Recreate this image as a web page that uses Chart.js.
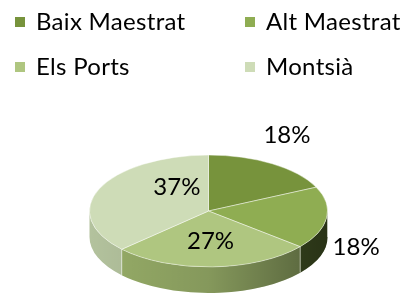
<!DOCTYPE html>
<html>
<head>
<meta charset="utf-8">
<script src="https://cdn.jsdelivr.net/npm/chart.js@4/dist/chart.umd.min.js"></script>
<style>
  html, body { margin: 0; padding: 0; background: #fff; }
  #wrap { position: relative; width: 403px; height: 293px; overflow: hidden; }
  #pie { position: absolute; left: 0; top: 0; }
  .legend { position: absolute; font-family: Lato, 'Noto Sans', sans-serif; font-size: 24px; letter-spacing: 0.3px; color: #000; line-height: 28px; white-space: nowrap; }
  .legend span { display: inline-block; width: 10px; height: 10px; margin-right: 11px; vertical-align: 3px; }
</style>
</head>
<body>
<div id="wrap">
  <canvas id="pie" width="403" height="293"></canvas>
  <div id="legend"></div>
</div>
<script>
// data
const regions = ['Baix Maestrat', 'Alt Maestrat', 'Els Ports', 'Montsià']
const shares = [18, 18, 27, 37]
const colors = ['#77933c', '#8fad52', '#afc680', '#cedcb7']
const sideColors = ['#5a7030', '#4a5c28', '#97ad68', '#b3c29d']

// custom legend, 2 columns like the original
const legendPos = [[15, 7], [245, 7], [15, 52], [245, 52]]
const legendEl = document.getElementById('legend')
regions.forEach((name, i) => {
  const d = document.createElement('div')
  d.className = 'legend'
  d.style.left = legendPos[i][0] + 'px'
  d.style.top = legendPos[i][1] + 'px'
  d.innerHTML = '<span style="background:' + colors[i] + '"></span>' + name
  legendEl.appendChild(d)
})

const tilt = 0.47     // vertical squash of the pie
const depth = 26      // thickness of the side
const screenY = 211   // where the centre of the top face ends up

// squash the pie and draw the visible side wall under it
const pie3d = {
  id: 'pie3d',
  beforeDatasetsDraw(chart) {
    const ctx = chart.ctx
    const meta = chart.getDatasetMeta(0)
    const arc0 = meta.data[0]
    const cx = arc0.x, cy = arc0.y, r = arc0.outerRadius
    const ry = r * tilt
    meta.data.forEach((arc, i) => {
      const a0 = Math.max(arc.startAngle, 0)
      const a1 = Math.min(arc.endAngle, Math.PI)
      if (a1 <= a0) return
      ctx.save()
      ctx.beginPath()
      ctx.ellipse(cx, screenY + depth, r, ry, 0, a0, a1)
      ctx.ellipse(cx, screenY, r, ry, 0, a1, a0, true)
      ctx.closePath()
      ctx.fillStyle = sideColors[i]
      ctx.fill()
      const g = ctx.createLinearGradient(cx - r, 0, cx + r, 0)
      g.addColorStop(0, 'rgba(0,0,0,0)')
      g.addColorStop(0.5, 'rgba(0,0,0,0.12)')
      g.addColorStop(1, 'rgba(0,0,0,0.45)')
      ctx.fillStyle = g
      ctx.fill()
      ctx.strokeStyle = 'rgba(255,255,255,0.5)'
      ctx.lineWidth = 1
      ctx.beginPath()
      ctx.moveTo(cx + r * Math.cos(a0), screenY + ry * Math.sin(a0))
      ctx.lineTo(cx + r * Math.cos(a0), screenY + depth + ry * Math.sin(a0))
      ctx.stroke()
      ctx.restore()
    })
    ctx.save()
    ctx.translate(cx, screenY)
    ctx.scale(1, tilt)
    ctx.translate(-cx, -cy)
  },
  afterDatasetsDraw(chart) {
    chart.ctx.restore()
  }
}

// percentage labels: distance from centre (in radii) and a vertical nudge
const labelRadius = [1.23, 1.25, 0.55, 0.29]
const labelLift = [-18, 28, 0, -17]
const pieLabels = {
  id: 'pieLabels',
  afterDraw(chart) {
    const ctx = chart.ctx
    const meta = chart.getDatasetMeta(0)
    ctx.save()
    ctx.font = '24px Lato, "Noto Sans", sans-serif'
    ctx.fillStyle = '#000'
    ctx.textAlign = 'center'
    ctx.textBaseline = 'middle'
    meta.data.forEach((arc, i) => {
      const mid = (arc.startAngle + arc.endAngle) / 2
      const k = labelRadius[i] * arc.outerRadius
      const x = arc.x + Math.cos(mid) * k
      const y = screenY + Math.sin(mid) * k * tilt + labelLift[i]
      ctx.fillText(shares[i] + '%', x, y)
    })
    ctx.restore()
  }
}

const pieConfig = {
  type: 'pie',
  data: {
    labels: regions,
    datasets: [
      {
        data: shares,
        backgroundColor: colors,
        borderColor: 'rgba(255,255,255,0.6)',
        borderWidth: 1,
      },
    ],
  },
  options: {
    responsive: false,
    animation: false,
    layout: { padding: { left: 89, right: 75, top: 20, bottom: 33 } },
    plugins: {
      legend: { display: false },
      tooltip: { enabled: false },
    },
  },
  plugins: [pie3d, pieLabels],
}

const pieCanvas = document.getElementById('pie')
window.myPie = new Chart(pieCanvas, pieConfig)
</script>
</body>
</html>
